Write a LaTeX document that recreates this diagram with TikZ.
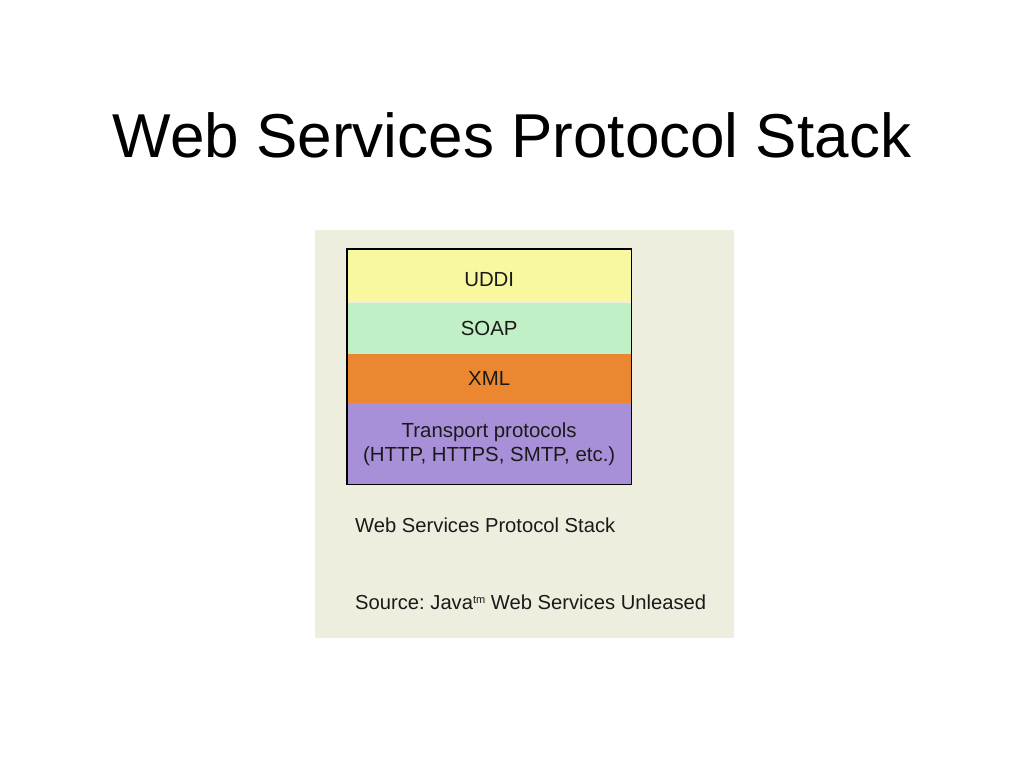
\documentclass[tikz,border=0pt]{standalone}
\usepackage{fontspec}
\setmainfont{Liberation Sans}
\usetikzlibrary{positioning}
\frenchspacing

\begin{document}
\begin{tikzpicture}[x=1pt, y=-1pt]

  % Colors
  \definecolor{panelcolor}{HTML}{EEEEDF} % Beige
  \definecolor{uddicolor}{HTML}{F8F8A0} % Yellow
  \definecolor{soapcolor}{HTML}{C2F0C6} % Green
  \definecolor{xmlcolor}{HTML}{EC8731} % Orange
  \definecolor{transcolor}{HTML}{A890D8} % Purple
  \definecolor{textcolor}{HTML}{1A1A1A}

  \tikzset{
    layer/.style={minimum width=284pt, inner sep=0pt, align=center,
      text=textcolor, font=\fontsize{20.4}{24}\selectfont},
    caption/.style={anchor=base west, inner sep=0pt, text=textcolor,
      font=\fontsize{20.2}{24}\selectfont}
  }

  \useasboundingbox (0,0) rectangle (1024,768);

  % Title
  \node[anchor=base, inner sep=0pt, font=\fontsize{62}{70}\selectfont] (title) at (512,157) {Web Services Protocol Stack};

  % Panel
  \fill[panelcolor] (315,230) rectangle (734,638);

  % Stack of layers
  \node[layer, fill=uddicolor, minimum height=53pt, anchor=north west] (uddi) at (347,249) {\raisebox{0pt}[22pt][0pt]{UDDI}};
  \node[layer, fill=soapcolor, minimum height=51pt, below=0pt of uddi] (soap) {SOAP};
  \node[layer, fill=xmlcolor, minimum height=49pt, below=0pt of soap] (xml) {XML};
  \node[layer, fill=transcolor, minimum height=81pt, below=0pt of xml] (transport) {Transport protocols\\(HTTP, HTTPS, SMTP, etc.)};
  \draw[line width=1.6pt] (uddi.north west) rectangle (transport.south east);

  % Captions
  \node[caption] (stackcap) at (355,532) {Web Services Protocol Stack};
  \node[caption] (source) at (355,609) {Source: Java\raisebox{6pt}{\fontsize{11}{11}\selectfont tm} Web Services Unleased};

\end{tikzpicture}
\end{document}
